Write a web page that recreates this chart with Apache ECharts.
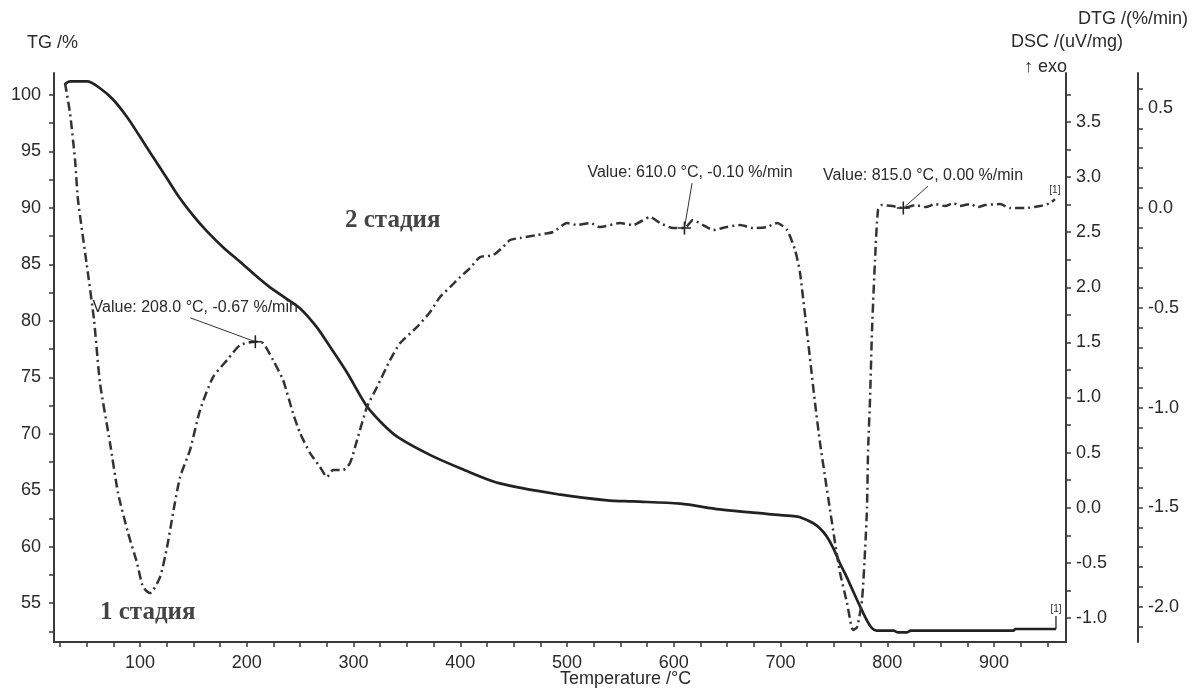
<!DOCTYPE html>
<html>
<head>
<meta charset="utf-8">
<script src="https://cdn.jsdelivr.net/npm/echarts@6/dist/echarts.min.js"></script>
<style>
html,body{margin:0;padding:0;background:#fff;}
#chart{width:1197px;height:688px;}
</style>
</head>
<body>
<div id="chart"></div>
<script>
// ---- data ----
const tgTemp = [29.7, 34.4, 50.4, 62.5, 74.7, 87.8, 100, 112.2, 125.3, 137, 150, 163, 178, 194, 206, 220, 235, 250, 265, 278, 294, 312, 328, 343, 372, 401, 437, 494, 537.5, 562, 606, 643, 687, 712, 718.3, 730.8, 737, 743.3, 749.5, 755.7, 762, 768.2, 774.5, 780.7, 785.4, 790, 806, 810, 818, 822, 918, 920, 958];
const tgVal  = [100.97, 101.2, 101.2, 100.6, 99.6, 98.05, 96.3, 94.5, 92.6, 90.9, 89.3, 87.9, 86.5, 85.2, 84.2, 83.1, 82.1, 81.1, 79.5, 77.7, 75.4, 72.5, 70.8, 69.6, 68.1, 66.9, 65.6, 64.6, 64.1, 64.0, 63.8, 63.3, 62.9, 62.7, 62.6, 62.07, 61.6, 60.9, 59.85, 58.5, 57.3, 56.0, 54.7, 53.5, 52.8, 52.55, 52.55, 52.4, 52.4, 52.55, 52.55, 52.7, 52.7];

const dtgTemp = [29.7, 34.4, 39.1, 41.9, 50, 56.9, 62.5, 71.9, 79.4, 88.8, 97.2, 102.8, 109.4, 118.7, 125.3, 130.9, 137.5, 146.8, 156.2, 168.4, 181.5, 193.7, 208, 215.2, 224.6, 234, 243.3, 249.9, 259.3, 268.6, 275.2, 280.8, 290.2, 296.7, 303.3, 312.6, 322, 334.2, 343.6, 359.5, 371.7, 381, 390.4, 399.8, 409.1, 418.5, 430.7, 440, 446.6, 456, 471.9, 486.9, 500, 509.4, 521.5, 530.9, 549.6, 561.8, 577.8, 587.1, 599.3, 610, 618, 627.4, 636.8, 649.9, 662.1, 674.2, 687.4, 696.7, 706.1, 713.6, 718.3, 732.3, 737, 741.7, 746.4, 751.1, 755.8, 762.3, 767.9, 771.7, 776.3, 779.2, 781, 782, 783.8, 785.7, 788.5, 791.3, 795, 805, 815, 826, 836, 845, 854, 862, 868, 877.5, 885, 891.6, 905.6, 915, 929, 943, 952.5, 957];
const dtgVal  = [0.627, 0.476, 0.241, 0.04, -0.28, -0.561, -0.877, -1.178, -1.429, -1.629, -1.779, -1.9, -1.93, -1.85, -1.699, -1.529, -1.348, -1.213, -1.013, -0.847, -0.762, -0.687, -0.67, -0.677, -0.762, -0.862, -1.028, -1.128, -1.228, -1.298, -1.348, -1.313, -1.313, -1.278, -1.163, -0.997, -0.897, -0.762, -0.677, -0.596, -0.521, -0.446, -0.396, -0.346, -0.301, -0.246, -0.236, -0.195, -0.16, -0.15, -0.135, -0.12, -0.075, -0.085, -0.075, -0.095, -0.075, -0.085, -0.045, -0.075, -0.1, -0.1, -0.06, -0.085, -0.11, -0.095, -0.085, -0.1, -0.095, -0.075, -0.11, -0.211, -0.326, -0.977, -1.178, -1.348, -1.514, -1.679, -1.83, -1.98, -2.115, -2.1, -1.965, -1.714, -1.499, -1.213, -0.962, -0.611, -0.261, -0.01, 0.015, 0.01, 0.0, 0.015, 0.005, 0.02, 0.01, 0.025, 0.01, 0.02, 0.005, 0.015, 0.02, 0.0, 0.0, 0.01, 0.025, 0.045];

const xTickLabels = [100, 200, 300, 400, 500, 600, 700, 800, 900];
const tgTickLabels = [55, 60, 65, 70, 75, 80, 85, 90, 95, 100];
const dscTickLabels = [-1.0, -0.5, 0.0, 0.5, 1.0, 1.5, 2.0, 2.5, 3.0, 3.5];
const dtgTickLabels = [-2.0, -1.5, -1.0, -0.5, 0.0, 0.5];

const annPoints = [[208.0, -0.67], [610.0, -0.10], [815.0, 0.00]];
const annTexts = ['Value: 208.0 °C, -0.67 %/min', 'Value: 610.0 °C, -0.10 %/min', 'Value: 815.0 °C, 0.00 %/min'];
const annLabelAt = [[147, -0.55], [617.1, 0.125], [838.2, 0.11]];

// ---- helpers ----
function steps(a, b, s) { const r = []; for (let v = a; v <= b + 1e-9; v += s) r.push(+v.toFixed(4)); return r; }
const zip = (xs, ys) => xs.map((x, i) => [x, ys[i]]);

const FONT = '"Liberation Sans", Arial, sans-serif';
const SERIF = '"Liberation Serif", "DejaVu Serif", serif';
const AX = '#3a3a3a';
const TXT = '#2a2a2a';
const plus = 'path://M0,4.4h10v1.2h-10zM4.4,0h1.2v10h-1.2z';

const chart = echarts.init(document.getElementById('chart'), null, {renderer: 'canvas'});

const axisBase = {
  type: 'value',
  splitLine: {show: false},
  axisLine: {show: true, onZero: false, lineStyle: {color: AX, width: 2}},
  axisTick: {show: true, inside: false, length: 5, lineStyle: {color: AX, width: 1.5}},
  axisLabel: {color: TXT, fontFamily: FONT, fontSize: 18},
};

const option = {
  animation: false,
  backgroundColor: '#ffffff',
  grid: {left: 54, right: 131, top: 73, bottom: 46, show: false},
  xAxis: Object.assign({}, axisBase, {
    min: 19.4, max: 967.4,
    axisTick: Object.assign({}, axisBase.axisTick, {customValues: steps(25, 950, 25)}),
    axisLabel: Object.assign({}, axisBase.axisLabel, {customValues: xTickLabels, margin: 12})
  }),
  yAxis: [
    Object.assign({}, axisBase, {
      position: 'left', min: 51.55, max: 101.95,
      axisTick: Object.assign({}, axisBase.axisTick, {customValues: steps(52.5, 100, 2.5)}),
      axisLabel: Object.assign({}, axisBase.axisLabel, {customValues: tgTickLabels, margin: 13})
    }),
    Object.assign({}, axisBase, {
      position: 'right', offset: 0, min: -1.218, max: 3.944,
      axisTick: Object.assign({}, axisBase.axisTick, {customValues: steps(-1.0, 3.75, 0.25)}),
      axisLabel: Object.assign({}, axisBase.axisLabel, {customValues: dscTickLabels, margin: 10, formatter: v => (+v).toFixed(1)})
    }),
    Object.assign({}, axisBase, {
      position: 'right', offset: 72, min: -2.175, max: 0.677,
      axisTick: Object.assign({}, axisBase.axisTick, {customValues: steps(-2.1, 0.6, 0.1)}),
      axisLabel: Object.assign({}, axisBase.axisLabel, {customValues: dtgTickLabels, margin: 10, formatter: v => (+v).toFixed(1)})
    })
  ],
  series: [
    {
      name: 'TG', type: 'line', yAxisIndex: 0, data: zip(tgTemp, tgVal),
      showSymbol: false, smooth: 0.3, clip: false,
      lineStyle: {color: '#222', width: 2.7},
      markPoint: {
        silent: true,
        data: [{
          coord: [tgTemp[tgTemp.length - 1], tgVal[tgVal.length - 1]],
          symbol: 'rect', symbolSize: [1.3, 13], symbolOffset: [0, -6.5],
          itemStyle: {color: '#222'},
          label: {show: true, position: 'top', distance: 2, formatter: '[1]', fontFamily: FONT, fontSize: 10, color: TXT}
        }]
      }
    },
    {
      name: 'DTG', type: 'line', yAxisIndex: 2, data: zip(dtgTemp, dtgVal),
      showSymbol: false, smooth: 0.2, clip: false,
      lineStyle: {color: '#333', width: 2.5, type: [9, 4, 2, 4]},
      markLine: {
        silent: true, symbol: ['none', 'none'],
        lineStyle: {type: 'solid', color: '#333', width: 1},
        label: {show: false},
        data: annPoints.map((p, i) => [{coord: p}, {coord: annLabelAt[i]}])
      },
      markPoint: {
        silent: true,
        data: annPoints.map(p => ({
          coord: p, symbol: plus, symbolSize: 13, itemStyle: {color: '#222'}, label: {show: false}
        })).concat(annLabelAt.map((p, i) => ({
          coord: p, symbol: 'circle', symbolSize: 1, itemStyle: {color: 'rgba(0,0,0,0)'},
          label: {show: true, position: 'top', distance: 2, offset: [i === 2 ? -5 : (i === 0 ? 5 : -2), 0],
                  formatter: annTexts[i], fontFamily: FONT, fontSize: 16, color: TXT}
        }))).concat([{
          coord: [dtgTemp[dtgTemp.length - 1], dtgVal[dtgVal.length - 1]],
          symbol: 'circle', symbolSize: 1, itemStyle: {color: 'rgba(0,0,0,0)'},
          label: {show: true, position: 'top', distance: 3, formatter: '[1]', fontFamily: FONT, fontSize: 10, color: TXT}
        }])
      }
    }
  ],
  graphic: [
    {type: 'text', left: 27, top: 34, style: {text: 'TG /%', font: '18px ' + FONT, fill: TXT}},
    {type: 'text', right: 9, top: 10, style: {text: 'DTG /(%/min)', font: '18px ' + FONT, fill: TXT}},
    {type: 'text', right: 74, top: 33, style: {text: 'DSC /(uV/mg)', font: '18px ' + FONT, fill: TXT}},
    {type: 'text', right: 130, top: 58, style: {text: '↑ exo', font: '18px ' + FONT, fill: TXT}},
    {type: 'text', left: 560, top: 670, style: {text: 'Temperature /°C', font: '18px ' + FONT, fill: TXT}},
    {type: 'text', left: 100, top: 600, style: {text: '1 стадия', font: 'bold 25px ' + SERIF, fill: '#444'}},
    {type: 'text', left: 345, top: 208, style: {text: '2 стадия', font: 'bold 25px ' + SERIF, fill: '#444'}}
  ]
};
chart.setOption(option);
</script>
</body>
</html>
